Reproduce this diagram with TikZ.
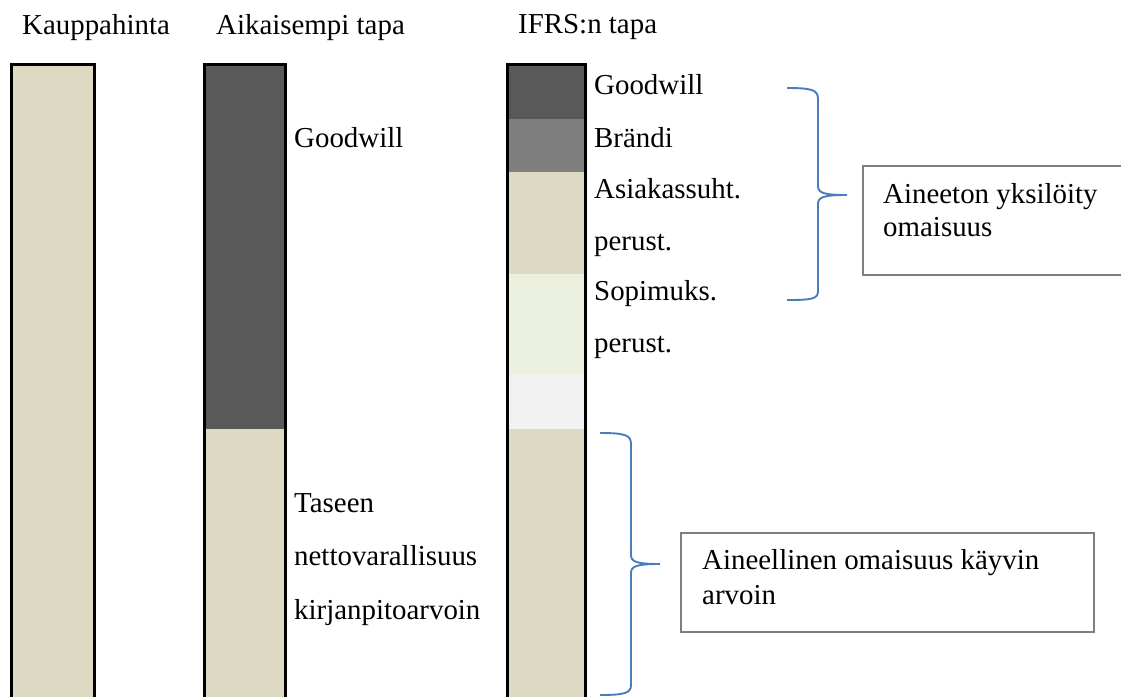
\documentclass[tikz,border=0pt]{standalone}
\usepackage{fontspec}
\setmainfont{Liberation Serif}
\definecolor{beige}{HTML}{DDD9C3}
\definecolor{darkgw}{HTML}{595959}
\definecolor{midgray}{HTML}{7F7F7F}
\definecolor{palegreen}{HTML}{EBF1DE}
\definecolor{palegray}{HTML}{F2F2F2}
\definecolor{braceblue}{HTML}{4A7EBB}
\definecolor{boxgray}{HTML}{7F7F7F}
\begin{document}
\begin{tikzpicture}[x=1pt,y=-1pt,
  lbl/.style={anchor=base west,inner sep=0pt,font=\fontsize{28.9}{34}\selectfont},
  seg/.style={anchor=north west,inner sep=0pt,outer sep=0pt,draw=none,rectangle},
  barline/.style={draw=black,line width=3pt},
  bracestyle/.style={draw=braceblue,line width=1.9pt},
  infobox/.style={anchor=north west,inner sep=0pt,rectangle,draw=boxgray,line width=1.6pt}]
\useasboundingbox (0,0) rectangle (1121,696);
% ---- column titles
\node[lbl] (t1) at (22,34) {Kauppahinta};
\node[lbl] (t2) at (216,34) {Aikaisempi tapa};
\node[lbl] (t3) at (518,33) {IFRS:n tapa};
% ---- bar 1: Kauppahinta
\node[seg,fill=beige,minimum width=82.5pt,minimum height=640pt] (k1) at (11.5,64) {};
\draw[barline] (11.5,700) -- (11.5,64) -- (94,64) -- (94,700);
% ---- bar 2: Aikaisempi tapa
\node[seg,fill=darkgw,minimum width=80.3pt,minimum height=365pt] (a1) at (204.7,64) {};
\node[seg,fill=beige,minimum width=80.3pt,minimum height=275pt] (a2) at (204.7,429) {};
\draw[barline] (204.7,700) -- (204.7,64) -- (285,64) -- (285,700);
% ---- bar 3: IFRS:n tapa
\node[seg,fill=darkgw,minimum width=77.6pt,minimum height=55pt] (i1) at (507.7,64) {};
\node[seg,fill=midgray,minimum width=77.6pt,minimum height=53pt] (i2) at (507.7,119) {};
\node[seg,fill=beige,minimum width=77.6pt,minimum height=102pt] (i3) at (507.7,172) {};
\node[seg,fill=palegreen,minimum width=77.6pt,minimum height=101pt] (i4) at (507.7,274) {};
\node[seg,fill=palegray,minimum width=77.6pt,minimum height=54pt] (i5) at (507.7,375) {};
\node[seg,fill=beige,minimum width=77.6pt,minimum height=275pt] (i6) at (507.7,429) {};
\draw[barline] (507.7,700) -- (507.7,64) -- (585.3,64) -- (585.3,700);
% ---- labels of bar 2
\node[lbl] (g1) at (294,147) {Goodwill};
\node[lbl] (ta1) at (294,512) {Taseen};
\node[lbl] (ta2) at (294,565) {nettovarallisuus};
\node[lbl] (ta3) at (294,619) {kirjanpitoarvoin};
% ---- labels of bar 3
\node[lbl] (l1) at (594,94) {Goodwill};
\node[lbl] (l2) at (594,147) {Brändi};
\node[lbl] (l3) at (594,198) {Asiakassuht.};
\node[lbl] (l4) at (594,250) {perust.};
\node[lbl] (l5) at (594,300) {Sopimuks.};
\node[lbl] (l6) at (594,352) {perust.};
% ---- brace 1
\coordinate (b1top) at (787,88);
\coordinate (b1tip) at (847,195);
\coordinate (b1bot) at (787,300);
\draw[bracestyle] (b1top) .. controls (812,88) and (818,90) .. (818,99)
  -- (818,186) .. controls (818,193) and (824,195) .. (b1tip)
  .. controls (824,195) and (818,197) .. (818,204)
  -- (818,291) .. controls (818,299) and (812,300) .. (b1bot);
% ---- brace 2
\coordinate (b2top) at (600,433);
\coordinate (b2tip) at (660,564);
\coordinate (b2bot) at (600,695);
\draw[bracestyle] (b2top) .. controls (625,433) and (631,435) .. (631,444)
  -- (631,555) .. controls (631,562) and (637,564) .. (b2tip)
  .. controls (637,564) and (631,566) .. (631,573)
  -- (631,685) .. controls (631,693) and (625,695) .. (b2bot);
% ---- box 1
\node[infobox,minimum width=270pt,minimum height=109pt] (box1) at (862,165) {};
\node[lbl] (x1) at (883,203) {Aineeton yksilöity};
\node[lbl] (x2) at (883,236) {omaisuus};
% ---- box 2
\node[infobox,minimum width=413pt,minimum height=99pt] (box2) at (680,532) {};
\node[lbl] (y1) at (702,569) {Aineellinen omaisuus käyvin};
\node[lbl] (y2) at (702,604) {arvoin};
\end{tikzpicture}
\end{document}
